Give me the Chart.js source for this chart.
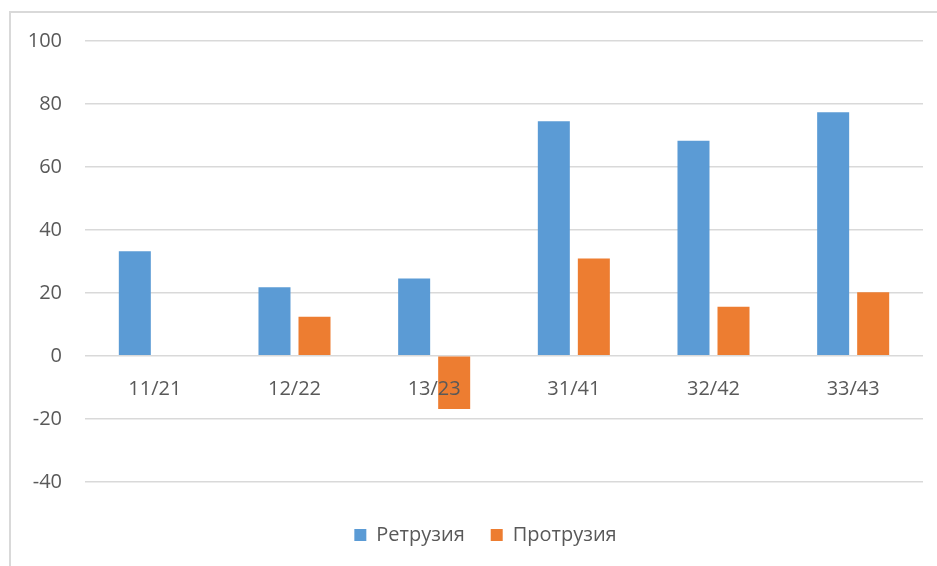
<!DOCTYPE html>
<html>
<head>
<meta charset="utf-8">
<script src="https://cdn.jsdelivr.net/npm/chart.js@4"></script>
<style>
  html, body { margin: 0; padding: 0; background: #fff; }
  #wrap { position: relative; width: 937px; height: 566px; }
</style>
</head>
<body>
<div id="wrap"><canvas id="myChart"></canvas></div>
<script>
// data
var categories = ['11/21', '12/22', '13/23', '31/41', '32/42', '33/43'];
var retrusion = [33.2, 21.8, 24.6, 74.5, 68.3, 77.4];
var protrusion = [0, 12.4, -16.9, 30.9, 15.6, 20.2];
var yTicks = [-40, -20, 0, 20, 40, 60, 80, 100];

var textColor = '#595959';
var gridColor = '#D9D9D9';

// light frame round the chart (left and top edges are visible in the reference)
var framePlugin = {
    id: 'frame',
    afterLayout: function (chart) {
        // legend sits a bit right of the canvas centre in the reference
        chart.legend.left += 48;
    },
    beforeDraw: function (chart) {
        var ctx = chart.ctx;
        ctx.save();
        ctx.strokeStyle = gridColor;
        ctx.lineWidth = 2;
        ctx.beginPath();
        ctx.moveTo(10, chart.height);
        ctx.lineTo(10, 12);
        ctx.lineTo(chart.width, 12);
        ctx.stroke();
        ctx.restore();
    }
};

var ctx = document.getElementById('myChart').getContext('2d');
var myChart = new Chart(ctx, {
    type: 'bar',
    data: {
        labels: categories,
        datasets: [{
            label: 'Ретрузия',
            data: retrusion,
            backgroundColor: '#5B9BD5',
            borderWidth: 0
        }, {
            label: 'Протрузия',
            data: protrusion,
            backgroundColor: '#ED7D31',
            borderWidth: 0
        }]
    },
    options: {
        responsive: true,
        maintainAspectRatio: false,
        animation: false,
        categoryPercentage: 0.573,
        barPercentage: 0.8,
        layout: {
            padding: { top: 41, left: 0, right: 14, bottom: 11 }
        },
        plugins: {
            legend: {
                position: 'bottom',
                // empty title only used as spacer above the legend items
                title: { display: true, text: '', font: { size: 1 }, padding: { top: 16, bottom: 0 } },
                labels: {
                    boxWidth: 12,
                    boxHeight: 12,
                    padding: 26,
                    color: textColor,
                    font: { family: 'Open Sans', size: 20 }
                }
            },
            tooltip: { enabled: false }
        },
        scales: {
            x: {
                position: { y: 0 },
                grid: { display: false },
                border: { display: false },
                ticks: {
                    z: 1,
                    color: textColor,
                    padding: 13,
                    maxRotation: 0,
                    font: { family: 'Open Sans', size: 20 }
                }
            },
            y: {
                min: yTicks[0],
                max: yTicks[yTicks.length - 1],
                afterFit: function (scale) { scale.width = 85; },
                afterBuildTicks: function (scale) {
                    scale.ticks = yTicks.map(function (v) { return { value: v }; });
                },
                grid: { color: gridColor, lineWidth: 1.5, drawTicks: false },
                border: { display: false },
                ticks: {
                    color: textColor,
                    padding: 23,
                    font: { family: 'Open Sans', size: 20 }
                }
            }
        }
    },
    plugins: [framePlugin]
});
</script>
</body>
</html>
